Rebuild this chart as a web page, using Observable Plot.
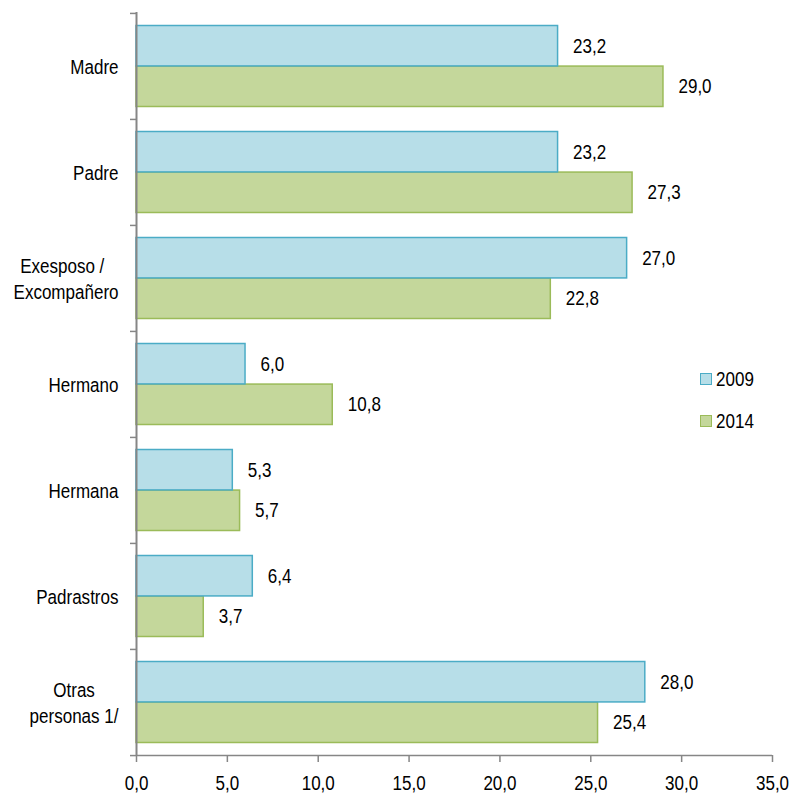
<!DOCTYPE html>
<html>
<head>
<meta charset="utf-8">
<script src="https://cdn.jsdelivr.net/npm/d3@7"></script>
<script src="https://cdn.jsdelivr.net/npm/@observablehq/plot@0.6"></script>
<style>
  html, body { margin: 0; padding: 0; background: #fff; }
  #wrap { position: relative; width: 791px; height: 793px; }
  #legend { position: absolute; left: 700px; top: 366px; font-family: 'Liberation Sans', Arial, sans-serif; font-size: 20.5px; color: #000; }
  .item { display: flex; align-items: center; height: 26px; margin-bottom: 16px; }
  .sw { width: 10px; height: 10px; border: 1.5px solid; margin-right: 4px; flex: none; }
  .lt { display: inline-block; transform: scaleX(0.83); transform-origin: left center; }
</style>
</head>
<body>
<div id="wrap"><div id="legend"></div></div>
<script>
const categories = ["Madre", "Padre", "Exesposo / Excompañero", "Hermano", "Hermana", "Padrastros", "Otras personas 1/"];
const categoryLabels = ["Madre", "Padre", "Exesposo /\u00a0\u00a0\u00a0\nExcompañero", "Hermano", "Hermana", "Padrastros", "Otras\u00a0\u00a0\u00a0\u00a0\u00a0\npersonas 1/"];
const series = ["2009", "2014"];
const values2009 = [23.2, 23.2, 27.0, 6.0, 5.3, 6.4, 28.0];
const values2014 = [29.0, 27.3, 22.8, 10.8, 5.7, 3.7, 25.4];
const xTicks = [0, 5, 10, 15, 20, 25, 30, 35];

const fills = {"2009": "#b7dee8", "2014": "#c4d79b"};
const strokes = {"2009": "#4bacc6", "2014": "#9bbb59"};

const W = 791, H = 793, mt = 12, mb = 38, ml = 136, mr = 19;
const band = (H - mt - mb) / categories.length;
const half = band / 2;
const pad = 12.5;
const labelShift = (pad + half) / 2 - half;
const squeeze = 0.83;

const d2009 = categories.map((c, i) => ({cat: c, value: values2009[i]}));
const d2014 = categories.map((c, i) => ({cat: c, value: values2014[i]}));
const fmt = v => v.toFixed(1).replace(".", ",");
const labelOf = c => categoryLabels[categories.indexOf(c)];
const font = "'Liberation Sans', Arial, sans-serif";
const gray = "#868686";

const chart = Plot.plot({
  width: W, height: H,
  marginTop: mt, marginBottom: mb, marginLeft: ml, marginRight: mr,
  style: {fontFamily: font, fontSize: "20.5px", color: "#000", background: "#fff"},
  x: {domain: [0, 35], axis: null},
  y: {domain: categories, padding: 0, axis: null},
  marks: [
    Plot.barX(d2014, {y: "cat", x: "value", fill: fills["2014"], stroke: strokes["2014"], strokeWidth: 1.5, insetTop: half, insetBottom: pad}),
    Plot.barX(d2009, {y: "cat", x: "value", fill: fills["2009"], stroke: strokes["2009"], strokeWidth: 1.5, insetTop: pad, insetBottom: half}),
    Plot.text(d2009, {y: "cat", x: "value", text: d => fmt(d.value), dx: 15, dy: labelShift, textAnchor: "start", fill: "#000"}),
    Plot.text(d2014, {y: "cat", x: "value", text: d => fmt(d.value), dx: 15, dy: -labelShift, textAnchor: "start", fill: "#000"}),
    Plot.axisX({ticks: xTicks, tickSize: 7, tickPadding: 13, tickFormat: fmt, stroke: gray, strokeWidth: 1.5, fill: "#000", label: null}),
    Plot.axisY({ticks: categories, tickSize: 6, tickFormat: () => "", dy: -half, stroke: gray, strokeWidth: 1.5, label: null}),
    Plot.axisY({ticks: categories.slice(-1), tickSize: 6, tickFormat: () => "", dy: half, stroke: gray, strokeWidth: 1.5, label: null}),
    Plot.axisY({ticks: categories, tickSize: 0, tickPadding: 18, tickFormat: labelOf, lineHeight: 1.25, dy: -1, fill: "#000", label: null}),
    Plot.ruleY(categories.slice(-1), {dy: half, stroke: gray, strokeWidth: 1.5}),
    Plot.ruleX([0], {stroke: gray, strokeWidth: 2})
  ]
});
document.getElementById("wrap").prepend(chart);

// condense the glyphs horizontally to mimic the narrow typeface of the original
chart.querySelectorAll("text").forEach(t => {
  const tspans = t.querySelectorAll("tspan");
  const els = tspans.length ? Array.from(tspans) : [t];
  els.forEach(e => {
    const L = e.getComputedTextLength();
    if (L > 0) {
      e.setAttribute("textLength", L * squeeze);
      e.setAttribute("lengthAdjust", "spacingAndGlyphs");
    }
  });
});

const legend = document.getElementById("legend");
for (const s of series) {
  const item = document.createElement("div");
  item.className = "item";
  const sw = document.createElement("div");
  sw.className = "sw";
  sw.style.background = fills[s];
  sw.style.borderColor = strokes[s];
  const t = document.createElement("span");
  t.className = "lt";
  t.textContent = s;
  item.append(sw, t);
  legend.append(item);
}
</script>
</body>
</html>
